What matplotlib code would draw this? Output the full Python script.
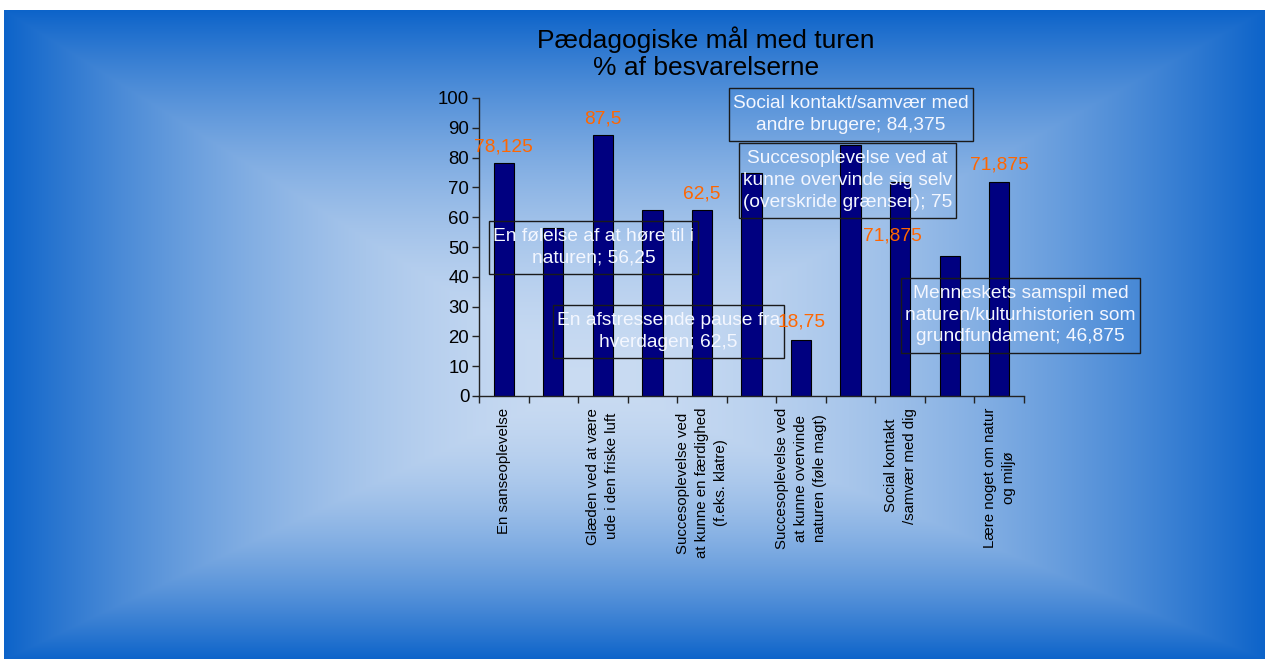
import numpy as np
import matplotlib
matplotlib.use("Agg")
from matplotlib import pyplot as plt
from matplotlib.path import Path

plt.rcParams['font.family'] = ['Liberation Sans', 'DejaVu Sans']

# data
categories = ["En sanseoplevelse",
              "En følelse af at høre til i naturen",
              "Glæden ved at være ude i den friske luft",
              "En afstressende pause fra hverdagen",
              "Succesoplevelse ved at kunne en færdighed (f.eks. klatre)",
              "Succesoplevelse ved at kunne overvinde sig selv (overskride grænser)",
              "Succesoplevelse ved at kunne overvinde naturen (føle magt)",
              "Social kontakt/samvær med andre brugere",
              "Social kontakt /samvær med dig",
              "Menneskets samspil med naturen/kulturhistorien som grundfundament",
              "Lære noget om natur og miljø"]
values = [78.125, 56.25, 87.5, 62.5, 62.5, 75, 18.75, 84.375, 71.875, 46.875, 71.875]

tick_labels = ["En sanseoplevelse", "",
               "Glæden ved at være\nude i den friske luft", "",
               "Succesoplevelse ved\nat kunne en færdighed\n(f.eks. klatre)", "",
               "Succesoplevelse ved\nat kunne overvinde\nnaturen (føle magt)", "",
               "Social kontakt\n/samvær med dig", "",
               "Lære noget om natur\nog miljø"]

box_names = {1: "En følelse af at høre til i\nnaturen",
             3: "En afstressende pause fra\nhverdagen",
             5: "Succesoplevelse ved at\nkunne overvinde sig selv\n(overskride grænser)",
             7: "Social kontakt/samvær med\nandre brugere",
             9: "Menneskets samspil med\nnaturen/kulturhistorien som\ngrundfundament"}

# label offsets from bar top (pixels)
label_dx = [0, 40, 0, 16, 0, 96, 0, 0, -8, 71, 0]
label_dy = [16, -19, 16, -122, 16, -8, 18, 30, -54, -59, 17]


def label_box(x0, y0, width, height, mutation_size):
    # plain rectangle, more padding top/bottom than left/right
    px = 0.22 * mutation_size
    py = 0.38 * mutation_size
    x0, y0 = x0 - px, y0 - py
    x1, y1 = x0 + width + 2 * px, y0 + height + 2 * py
    return Path([(x0, y0), (x1, y0), (x1, y1), (x0, y1), (x0, y0)], closed=True)


W, H = 1265, 659
fig = plt.figure(figsize=(W / 100, H / 100), dpi=100)

# background: rectangular gradient from centre
bg = fig.add_axes([0, 0, 1, 1], zorder=-10)
yy, xx = np.mgrid[0:H, 0:W].astype(float)
cx, cy = 590.0, 380.0
left, right, top, bottom = 4.0, W, 10.0, H
tx = np.where(xx < cx, (cx - xx) / (cx - left), (xx - cx) / (right - cx))
ty = np.where(yy < cy, (cy - yy) / (cy - top), (yy - cy) / (bottom - cy))
t = np.clip(np.maximum(tx, ty), 0, 1) ** 1.8
light = np.array([0.79, 0.86, 0.95])
dark = np.array([0.05, 0.39, 0.79])
img = light[None, None, :] + (dark - light)[None, None, :] * t[..., None]
img[:int(top), :, :] = 1.0
img[:, :int(left), :] = 1.0
bg.imshow(img, extent=[0, W, H, 0], aspect='auto', interpolation='bilinear')
bg.set_xlim(0, W)
bg.set_ylim(H, 0)
bg.axis('off')

# chart
ax = fig.add_axes([479 / W, 263 / H, 545 / W, 298 / H])
ax.patch.set_alpha(0)
x = np.arange(len(values))
ax.bar(x, values, width=0.41, color='#000080', edgecolor='black', linewidth=0.8, zorder=2)
ax.set_xlim(-0.5, len(values) - 0.5)
ax.set_ylim(0, 100)
ax.set_yticks(np.arange(0, 101, 10))
ax.tick_params(axis='y', labelsize=13.4, length=5, width=1, color='#222222', pad=2)
ax.set_xticks(x)
ax.set_xticklabels(tick_labels, rotation=90, fontsize=10.8, linespacing=1.45)
ax.tick_params(axis='x', length=0, pad=8.5)
ax.set_xticks(np.arange(-0.5, len(values), 1), minor=True)
ax.tick_params(axis='x', which='minor', length=5, width=1, color='#222222')
for s in ['top', 'right']:
    ax.spines[s].set_visible(False)
for s in ['left', 'bottom']:
    ax.spines[s].set_color('#222222')
    ax.spines[s].set_linewidth(1)

for i, v in enumerate(values):
    num = f"{v:g}".replace('.', ',')
    if i in box_names:
        ax.annotate(f"{box_names[i]}; {num}", xy=(i, v), xytext=(label_dx[i], label_dy[i]),
                    textcoords='offset pixels', ha='center', va='center',
                    fontsize=13.8, color='#f4f7ff', linespacing=1.35, zorder=5,
                    bbox=dict(boxstyle=label_box, facecolor='none',
                              edgecolor='#1a1a1a', linewidth=1))
    else:
        ax.annotate(num, xy=(i, v), xytext=(label_dx[i], label_dy[i]),
                    textcoords='offset pixels', ha='center', va='center',
                    fontsize=13.8, color='#ff6600', zorder=5)

fig.text(706 / W, 1 - 48 / H, "Pædagogiske mål med turen", ha='center', va='baseline',
         fontsize=19, color='black')
fig.text(706 / W, 1 - 75 / H, "% af besvarelserne", ha='center', va='baseline',
         fontsize=19, color='black')

fig.savefig('out.png', dpi=100)
